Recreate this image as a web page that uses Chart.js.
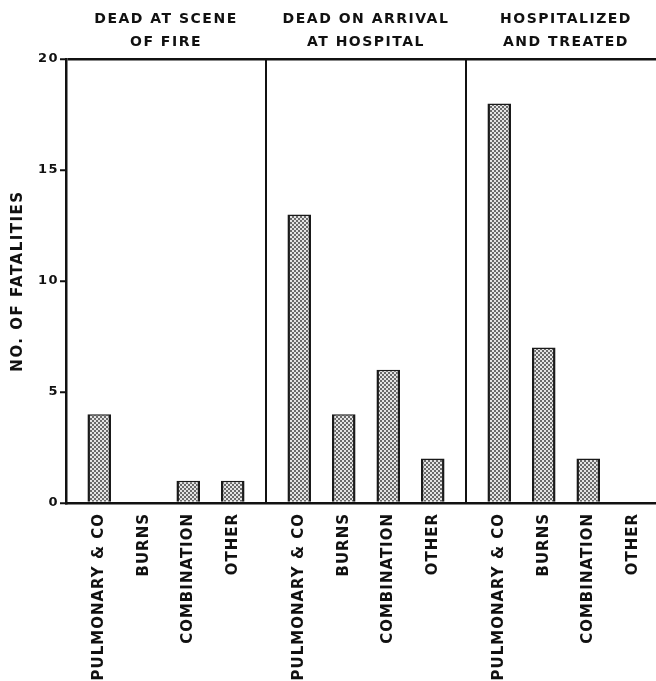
<!DOCTYPE html>
<html><head><meta charset="utf-8">
<script src="https://cdn.jsdelivr.net/npm/chart.js@4.4.1/dist/chart.umd.min.js"></script>
<style>
html,body{margin:0;padding:0;background:#fff;overflow:hidden;width:656px;height:681px}
#wrap{position:absolute;left:0;top:0;width:672px;height:681px}
</style>
</head><body>
<div id="wrap"><canvas id="c" width="672" height="681"></canvas></div>
<script>
// ---- data ----
const panels = [['DEAD AT SCENE','OF FIRE'],['DEAD ON ARRIVAL','AT HOSPITAL'],['HOSPITALIZED','AND TREATED']];
const causes = ['PULMONARY & CO','BURNS','COMBINATION','OTHER'];
const pulmonary = [4, 13, 18];
const burns = [0, 4, 7];
const combination = [1, 6, 2];
const other = [1, 2, 0];
const yTicks = [0, 5, 10, 15, 20];
const yTitle = 'NO. OF FATALITIES';

// ---- styling ----
const INK = '#111111';
Chart.defaults.font.family = '"DejaVu Sans", sans-serif';
Chart.defaults.color = INK;

function makePattern() {
  const p = document.createElement('canvas');
  p.width = 4; p.height = 4;
  const g = p.getContext('2d');
  for (let y = 0; y < 4; y++) for (let x = 0; x < 4; x++) {
    const dark = ((Math.floor(x / 2) + Math.floor(y / 2)) % 2) === 0;
    g.fillStyle = dark ? '#6a6a6a' : '#e4e4e4';
    g.fillRect(x, y, 1, 1);
  }
  return document.getElementById('c').getContext('2d').createPattern(p, 'repeat');
}
const pattern = makePattern();

const seriesValues = [pulmonary, burns, combination, other];

const spacingPlugin = {
  id: 'spacing',
  beforeLayout(chart) { chart.ctx.letterSpacing = '1.5px'; },
  beforeDraw(chart) { chart.ctx.letterSpacing = '1.5px'; }
};

const barLabels = {
  id: 'barLabels',
  afterDatasetsDraw(chart) {
    const ctx = chart.ctx;
    ctx.save();
    ctx.font = 'bold 15px "DejaVu Sans", sans-serif';
    ctx.letterSpacing = '1px';
    ctx.fillStyle = INK;
    ctx.textAlign = 'right';
    ctx.textBaseline = 'middle';
    chart.data.datasets.forEach((ds, i) => {
      chart.getDatasetMeta(i).data.forEach(el => {
        ctx.save();
        ctx.translate(el.x, chart.chartArea.bottom + 10);
        ctx.rotate(-Math.PI / 2);
        ctx.fillText(ds.label, 0, 0);
        ctx.restore();
      });
    });
    ctx.restore();
  }
};

new Chart(document.getElementById('c'), {
  type: 'bar',
  data: {
    labels: panels,
    datasets: causes.map((c, i) => ({
      label: c,
      data: seriesValues[i],
      xAxisID: 'x',
      yAxisID: 'y',
      backgroundColor: pattern,
      borderColor: '#1a1a1a',
      borderWidth: { top: 1.5, left: 2.5, right: 2.5, bottom: 0 },
      categoryPercentage: 0.89,
      barPercentage: 0.53
    }))
  },
  options: {
    responsive: false,
    animation: false,
    devicePixelRatio: 1,
    layout: { padding: { left: 0, right: 6, top: 0, bottom: 0 } },
    plugins: { legend: { display: false }, tooltip: { enabled: false } },
    scales: {
      x: {
        type: 'category',
        position: 'bottom',
        offset: true,
        grid: { color: INK, lineWidth: 2, drawTicks: false, offset: true },
        border: { color: INK, width: 2.5 },
        ticks: { display: false },
        afterFit(s) { s.height = 178; }
      },
      xTop: {
        type: 'category',
        position: 'top',
        labels: panels,
        offset: true,
        grid: { display: false, drawTicks: false },
        border: { display: false },
        ticks: {
          autoSkip: false, maxRotation: 0, minRotation: 0, padding: 5.5,
          font: { size: 14, weight: 'bold', lineHeight: '23px' }, color: INK
        },
        afterFit(s) { s.height = 59; }
      },
      y: {
        min: 0, max: 20,
        afterBuildTicks(s) { s.ticks = yTicks.map(v => ({ value: v })); },
        grid: {
          color: ctx => (ctx.tick && ctx.tick.value === 20) ? INK : 'rgba(0,0,0,0)',
          tickColor: INK, lineWidth: 2.5, tickLength: 6, tickWidth: 2
        },
        border: { color: INK, width: 2.5 },
        ticks: { font: { size: 13, weight: 'bold' }, padding: 1, color: INK },
        title: {
          display: true, text: yTitle, color: INK,
          font: { size: 15, weight: 'bold' }, padding: { top: 9, bottom: 0 }
        },
        afterFit(s) { s.width = 66; }
      }
    }
  },
  plugins: [spacingPlugin, barLabels]
});
</script>
</body></html>
